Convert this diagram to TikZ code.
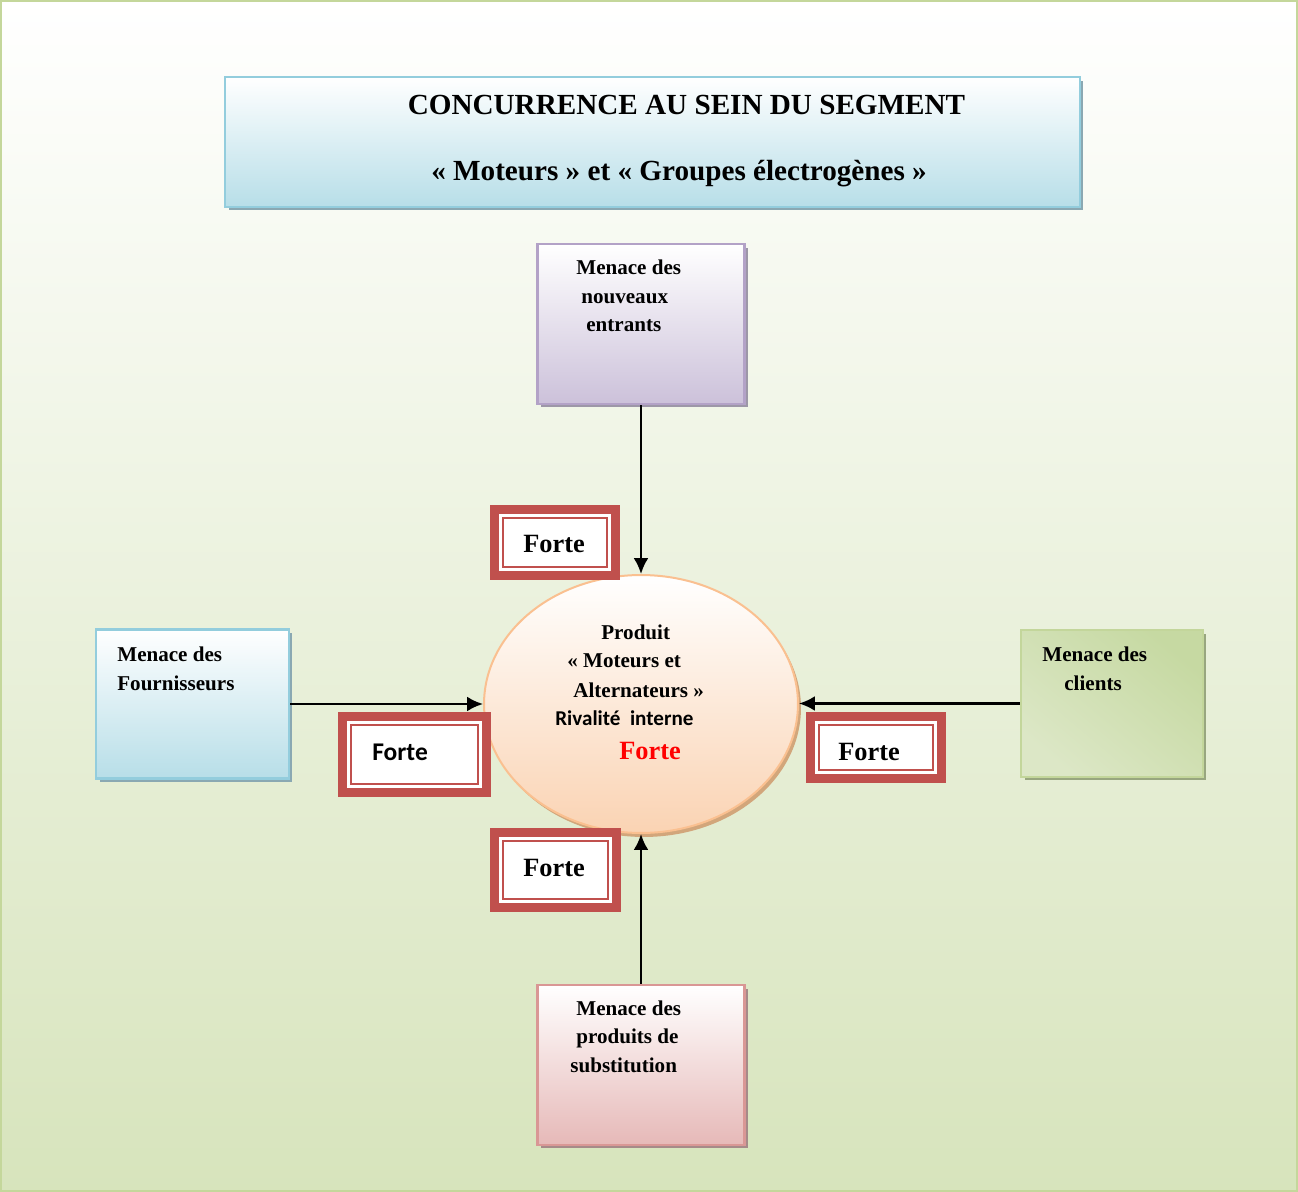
\documentclass[tikz,border=0pt]{standalone}
\usepackage{fontspec}
\setmainfont{Liberation Serif}
\newfontfamily\calibrifont{Carlito}
\usetikzlibrary{arrows.meta,shadows,shapes.geometric,calc}

\definecolor{bgbot}{HTML}{D7E4BC}
\definecolor{framegreen}{HTML}{C4D79B}
\definecolor{blueline}{HTML}{93CDDD}
\definecolor{bluefill}{HTML}{B7DEE8}
\definecolor{blueshadow}{HTML}{8AA8B2}
\definecolor{purpleline}{HTML}{B3A2C7}
\definecolor{purplefill}{HTML}{CCC1DA}
\definecolor{purpleshadow}{HTML}{9D97A8}
\definecolor{pinkline}{HTML}{D99795}
\definecolor{pinkfill}{HTML}{E6B9B8}
\definecolor{pinkshadow}{HTML}{A68A89}
\definecolor{greenline}{HTML}{C3D69B}
\definecolor{greendark}{HTML}{C6D9A2}
\definecolor{greenlight}{HTML}{F6F9F0}
\definecolor{greenmid}{HTML}{DCE7C6}
\definecolor{greenshadow}{HTML}{98A67F}
\definecolor{peachline}{HTML}{FAC090}
\definecolor{peachfill}{HTML}{FAD3B3}
\definecolor{peachshadow}{HTML}{D2A67B}
\definecolor{fortered}{HTML}{C0504D}
\definecolor{hotred}{HTML}{FF0000}

\begin{document}
\begin{tikzpicture}[x=0.02cm, y=-0.02cm,
  bigtitle/.style={font=\fontsize{16.6}{16.6}\selectfont\bfseries, inner sep=0pt, anchor=base},
  boxtext/.style={font=\fontsize{12}{12}\selectfont\bfseries, inner sep=0pt, anchor=base west},
  sanstext/.style={font=\calibrifont\fontsize{12}{12}\selectfont\bfseries, inner sep=0pt, anchor=base west},
  fortetext/.style={font=\fontsize{15}{15}\selectfont\bfseries, inner sep=0pt, anchor=base west},
  fortesans/.style={font=\calibrifont\fontsize{14.5}{14.5}\selectfont\bfseries, inner sep=0pt, anchor=base west},
  threat/.style={rectangle, inner sep=0pt, line width=0.05cm},
  fortebox/.style={rectangle, inner sep=0pt, outer sep=0pt, draw=fortered, fill=white, line width=0.18cm},
  forteinner/.style={draw=fortered, line width=0.04cm},
  conn/.style={line width=0.05cm, -{Latex[length=0.32cm, width=0.3cm]}},
]
\useasboundingbox (0,0) rectangle (1298,1192);

% page background and frame
\fill[top color=white, bottom color=bgbot] (0,0) rectangle (1298,1192);
\draw[framegreen, line width=0.05cm] (1,1) rectangle (1297,1191);

% title banner
\node[threat, draw=blueline, top color=white, bottom color=bluefill,
      drop shadow={shadow xshift=0.07cm, shadow yshift=-0.07cm, fill=blueshadow, opacity=1},
      minimum width=17.1cm, minimum height=2.6cm] (title) at (652.5,142) {};
\node[bigtitle] (title1) at (686.5,115) {CONCURRENCE AU SEIN DU SEGMENT};
\node[bigtitle] (title2) at (679,181) {« Moteurs » et « Groupes électrogènes »};

% the four threats
\node[threat, draw=purpleline, top color=white, bottom color=purplefill,
      drop shadow={shadow xshift=0.07cm, shadow yshift=-0.07cm, fill=purpleshadow, opacity=1},
      minimum width=4.14cm, minimum height=3.2cm] (entrants) at (641,324) {};
\node[boxtext] (e1) at (576,275) {Menace des};
\node[boxtext] (e2) at (581,303.5) {nouveaux};
\node[boxtext] (e3) at (586,332) {entrants};

\node[threat, draw=blueline, top color=white, bottom color=bluefill,
      drop shadow={shadow xshift=0.07cm, shadow yshift=-0.07cm, fill=blueshadow, opacity=1},
      minimum width=3.86cm, minimum height=2.98cm] (fourn) at (192.5,704) {};
\node[boxtext] (s1) at (117,661) {Menace des};
\node[boxtext] (s2) at (117,690) {Fournisseurs};

\node[threat, draw=greenline,
      drop shadow={shadow xshift=0.07cm, shadow yshift=-0.07cm, fill=greenshadow, opacity=1},
      top color=greendark, middle color=greenlight, bottom color=greenmid, shading angle=-40,
      minimum width=3.64cm, minimum height=2.94cm] (clients) at (1112,703.5) {};
\node[boxtext] (c1) at (1042,661) {Menace des};
\node[boxtext] (c2) at (1064,690) {clients};

\node[threat, draw=pinkline, top color=white, bottom color=pinkfill,
      drop shadow={shadow xshift=0.07cm, shadow yshift=-0.07cm, fill=pinkshadow, opacity=1},
      minimum width=4.14cm, minimum height=3.2cm] (subst) at (641,1065) {};
\node[boxtext] (p1) at (576,1015) {Menace des};
\node[boxtext] (p2) at (576,1043) {produits de};
\node[boxtext] (p3) at (570,1072) {substitution};

% central product
\node[ellipse, inner sep=0pt, draw=peachline, line width=0.04cm,
      top color=white, bottom color=peachfill,
      drop shadow={shadow xshift=0.06cm, shadow yshift=-0.08cm, fill=peachshadow, opacity=1},
      minimum width=6.28cm, minimum height=5.16cm] (prod) at (641,704) {};
\node[boxtext] (r1) at (601,639) {Produit};
\node[boxtext] (r2) at (567,667) {« Moteurs et};
\node[boxtext] (r3) at (573,697) {Alternateurs »};
\node[sanstext] (r4) at (555,725) {Rivalité\ \ interne};
\node[fortetext, text=hotred] (r5) at (619,759) {Forte};

% connectors
\draw[conn] (entrants.south) -- (prod.north);
\draw[conn] (fourn.east) -- (fourn.east -| prod.west);
\draw[conn] (clients.west) -- (clients.west -| prod.east);
\draw[conn] (subst.north) -- (prod.south);

% intensity labels: thick frame with a thin inner rule
\node[fortebox, minimum width=2.42cm, minimum height=1.32cm] (f1) at (555,542.5) {};
\draw[forteinner] ($(f1.north west)+(8.5,8.5)$) rectangle ($(f1.south east)+(-8.5,-8.5)$);
\node[fortetext] (f1t) at (523,552) {Forte};

\node[fortebox, minimum width=2.88cm, minimum height=1.52cm] (f2) at (414.5,754.5) {};
\draw[forteinner] ($(f2.north west)+(8.5,8.5)$) rectangle ($(f2.south east)+(-8.5,-8.5)$);
\node[fortesans] (f2t) at (372,760) {Forte};

\node[fortebox, minimum width=2.62cm, minimum height=1.24cm] (f3) at (876,747.5) {};
\draw[forteinner] ($(f3.north west)+(8.5,8.5)$) rectangle ($(f3.south east)+(-8.5,-8.5)$);
\node[fortetext] (f3t) at (838,760) {Forte};

\node[fortebox, minimum width=2.44cm, minimum height=1.5cm] (f4) at (555.5,870) {};
\draw[forteinner] ($(f4.north west)+(8.5,8.5)$) rectangle ($(f4.south east)+(-8.5,-8.5)$);
\node[fortetext] (f4t) at (523,876) {Forte};
\end{tikzpicture}
\end{document}
